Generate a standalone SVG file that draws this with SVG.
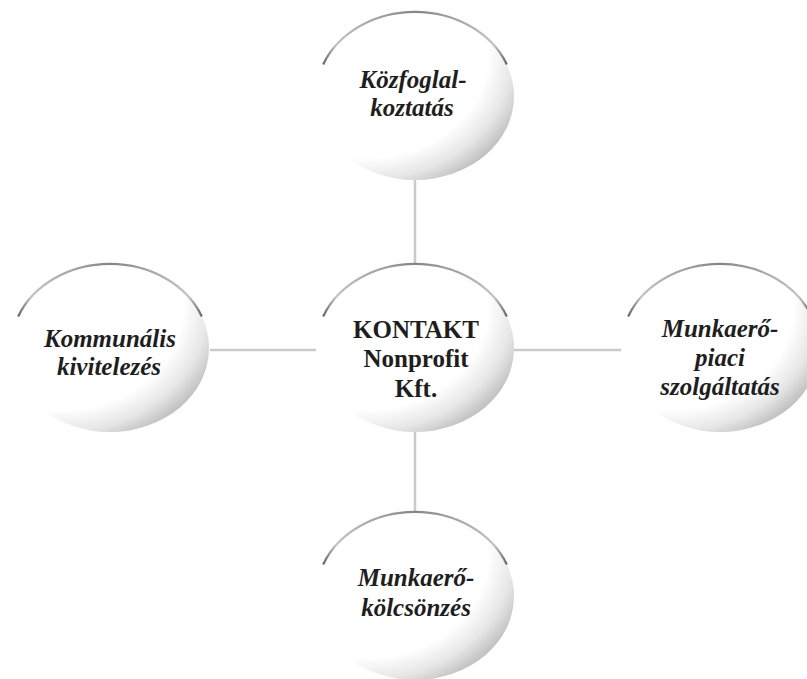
<svg xmlns="http://www.w3.org/2000/svg" width="807" height="679" viewBox="0 0 807 679">
<defs>
<radialGradient id="shade" cx="0.25" cy="0.25" r="0.86">
<stop offset="0" stop-color="#ffffff"/>
<stop offset="0.72" stop-color="#ffffff"/>
<stop offset="0.87" stop-color="#e6e6e6"/>
<stop offset="1" stop-color="#bdbdbd"/>
</radialGradient>
<linearGradient id="arcg" x1="0" y1="0" x2="1" y2="0">
<stop offset="0" stop-color="#666"/>
<stop offset="0.07" stop-color="#c4c4c4"/>
<stop offset="0.5" stop-color="#858585"/>
<stop offset="0.93" stop-color="#c4c4c4"/>
<stop offset="1" stop-color="#666"/>
</linearGradient>
</defs>
<style>
.body{fill:url(#shade);stroke:none}
.arc{fill:none;stroke:url(#arcg);stroke-width:2.2}
.conn{stroke:#cacaca;stroke-width:2.5;fill:none}
.lbl{font-family:"Liberation Serif","Times New Roman",serif;font-size:25px;font-weight:bold;font-style:italic;fill:#1e1e1e;text-anchor:middle}
.ctr{font-family:"Liberation Serif","Times New Roman",serif;font-size:25px;font-weight:bold;fill:#1e1e1e;text-anchor:middle}
</style>
<rect width="807" height="679" fill="#ffffff"/>
<g id="connectors">
<line class="conn" x1="415" y1="178" x2="415" y2="264"/>
<line class="conn" x1="415" y1="432" x2="415" y2="512"/>
<line class="conn" x1="210" y1="350" x2="316" y2="350"/>
<line class="conn" x1="514" y1="350" x2="622" y2="350"/>
</g>
<g id="node-top">
<ellipse class="body" cx="415" cy="96" rx="99" ry="84"/>
<path class="arc" d="M323.2 64.5 A99 84 0 0 1 506.8 64.5"/>
<text class="lbl" x="413" y="88">Közfoglal-</text>
<text class="lbl" x="412" y="116">koztatás</text>
</g>
<g id="node-left">
<ellipse class="body" cx="110" cy="348" rx="99" ry="84"/>
<path class="arc" d="M18.2 316.5 A99 84 0 0 1 201.8 316.5"/>
<text class="lbl" x="110" y="347">Kommunális</text>
<text class="lbl" x="109" y="375">kivitelezés</text>
</g>
<g id="node-center">
<ellipse class="body" cx="415" cy="348" rx="99" ry="84"/>
<path class="arc" d="M323.2 316.5 A99 84 0 0 1 506.8 316.5"/>
<text class="ctr" x="416" y="338">KONTAKT</text>
<text class="ctr" x="416" y="367">Nonprofit</text>
<text class="ctr" x="416" y="397">Kft.</text>
</g>
<g id="node-right">
<ellipse class="body" cx="720" cy="348" rx="99" ry="84"/>
<path class="arc" d="M628.2 316.5 A99 84 0 0 1 811.8 316.5"/>
<text class="lbl" x="720" y="337">Munkaerő-</text>
<text class="lbl" x="720" y="366">piaci</text>
<text class="lbl" x="720" y="395">szolgáltatás</text>
</g>
<g id="node-bottom">
<ellipse class="body" cx="415" cy="596" rx="99" ry="84"/>
<path class="arc" d="M323.2 564.5 A99 84 0 0 1 506.8 564.5"/>
<text class="lbl" x="416" y="586">Munkaerő-</text>
<text class="lbl" x="416" y="616">kölcsönzés</text>
</g>
</svg>
